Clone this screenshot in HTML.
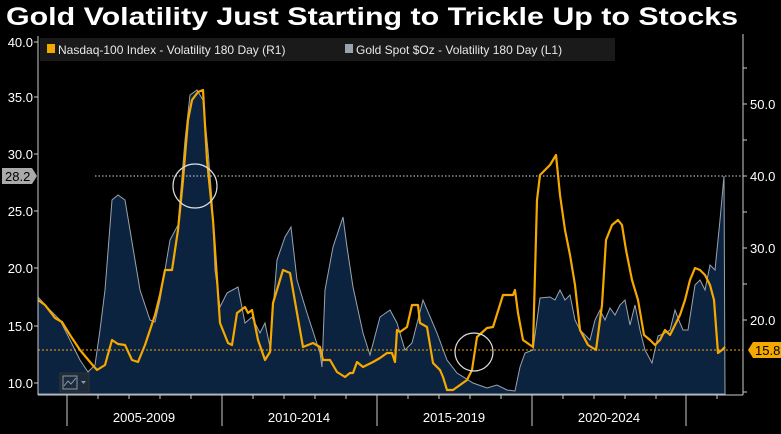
<!DOCTYPE html>
<html><head><meta charset="utf-8"><style>
body{margin:0;background:#000;width:781px;height:429px;overflow:hidden;font-family:"Liberation Sans",sans-serif}
</style></head><body>
<svg width="781" height="429" xmlns="http://www.w3.org/2000/svg" font-family="Liberation Sans, sans-serif">
<text x="6" y="25" fill="#fff" font-size="25" font-weight="bold" textLength="732" lengthAdjust="spacingAndGlyphs">Gold Volatility Just Starting to Trickle Up to Stocks</text>
<!-- gold area -->
<path fill="#0c2340" stroke="#9aa3ad" stroke-width="1" d="M38,394 L38,297 L50,310 L60,320 L70,340 L80,360 L88,372 L95,365 L100,330 L105,290 L112,200 L118,195 L125,200 L130,230 L140,290 L150,320 L155,322 L160,300 L165,270 L170,240 L178,225 L185,140 L190,95 L197,90 L203,100 L208,150 L212,200 L215,270 L220,307 L227,293 L238,287 L245,323 L252,317 L260,333 L265,323 L270,347 L277,260 L285,237 L291,227 L297,280 L307,313 L320,353 L322,367 L325,290 L333,247 L343,217 L347,247 L353,287 L363,333 L370,355 L380,317 L390,310 L397,323 L405,350 L412,343 L423,300 L437,333 L447,360 L457,373 L473,383 L487,388 L497,385 L507,390 L515,391 L520,367 L525,353 L533,350 L540,298 L550,297 L555,300 L560,290 L565,300 L570,295 L575,320 L580,330 L590,340 L595,320 L600,310 L605,320 L610,308 L615,315 L620,305 L625,300 L630,325 L635,305 L640,330 L645,350 L652,363 L658,336 L665,333 L670,330 L675,310 L680,323 L683,330 L688,330 L695,285 L700,280 L705,290 L710,265 L715,270 L720,220 L724,176 L725,394 Z"/>
<!-- legend -->
<rect x="40" y="38" width="575" height="23" fill="#1a1a1a"/>
<rect x="47" y="44" width="8" height="9" fill="#f5a800"/>
<text x="58" y="54" fill="#e8e8e8" font-size="12">Nasdaq-100 Index - Volatility 180 Day (R1)</text>
<rect x="345" y="44" width="8" height="9" fill="#9aa3ad"/>
<text x="356" y="54" fill="#e8e8e8" font-size="12">Gold Spot $Oz - Volatility 180 Day (L1)</text>
<!-- ref lines -->
<line x1="95" y1="176" x2="743" y2="176" stroke="#ddd" stroke-dasharray="1.5,2"/>
<line x1="38" y1="350" x2="743" y2="350" stroke="#f5a800" stroke-dasharray="2,2"/>
<!-- nasdaq -->
<polyline fill="none" stroke="#f5a800" stroke-width="2.2" stroke-linejoin="round" points="38,300 45,305 55,318 62,322 70,335 80,350 90,362 97,370 105,365 112,340 118,344 125,345 132,360 138,362 145,345 150,330 155,315 160,295 165,270 172,270 178,230 183,180 188,120 192,100 198,92 203,90 207,160 213,220 220,323 228,343 232,345 237,313 245,307 248,313 252,310 258,340 265,360 270,352 273,303 283,270 290,273 297,313 303,347 313,343 320,347 323,360 330,360 337,372 345,377 350,373 353,373 357,362 363,367 373,362 380,358 387,353 392,353 395,362 397,330 400,332 407,327 412,305 418,305 420,323 427,327 433,363 440,370 443,377 447,390 453,390 467,380 472,370 477,337 487,328 493,327 503,295 513,295 515,290 518,313 523,340 533,347 537,200 540,175 545,170 550,165 556,155 560,195 565,230 570,255 575,285 580,330 588,345 596,350 602,305 606,240 612,225 618,220 622,225 626,250 632,280 638,300 644,335 650,340 655,345 660,340 665,330 670,335 675,325 680,315 685,300 690,280 695,268 700,270 705,275 710,285 714,300 718,353 722,350 725,347"/>
<circle cx="195" cy="186" r="22" fill="none" stroke="#ddd" stroke-width="1.2"/>
<circle cx="474" cy="352" r="19" fill="none" stroke="#ddd" stroke-width="1.2"/>
<!-- axes -->
<g stroke="#ccc" stroke-width="1">
<line x1="38" y1="36" x2="38" y2="395"/>
<line x1="743" y1="34" x2="743" y2="395"/>
<line x1="38" y1="395" x2="743" y2="395"/>
<line x1="67" y1="395" x2="67" y2="426"/><line x1="222" y1="395" x2="222" y2="426"/><line x1="377" y1="395" x2="377" y2="426"/><line x1="532" y1="395" x2="532" y2="426"/><line x1="686" y1="395" x2="686" y2="426"/>
<line x1="98" y1="395" x2="98" y2="399"/><line x1="129" y1="395" x2="129" y2="399"/><line x1="160" y1="395" x2="160" y2="399"/><line x1="191" y1="395" x2="191" y2="399"/><line x1="253" y1="395" x2="253" y2="399"/><line x1="284" y1="395" x2="284" y2="399"/><line x1="315" y1="395" x2="315" y2="399"/><line x1="346" y1="395" x2="346" y2="399"/><line x1="408" y1="395" x2="408" y2="399"/><line x1="439" y1="395" x2="439" y2="399"/><line x1="470" y1="395" x2="470" y2="399"/><line x1="501" y1="395" x2="501" y2="399"/><line x1="563" y1="395" x2="563" y2="399"/><line x1="594" y1="395" x2="594" y2="399"/><line x1="625" y1="395" x2="625" y2="399"/><line x1="656" y1="395" x2="656" y2="399"/><line x1="717" y1="395" x2="717" y2="399"/>
<line x1="34" y1="42" x2="38" y2="42"/><line x1="34" y1="97" x2="38" y2="97"/><line x1="34" y1="154" x2="38" y2="154"/><line x1="34" y1="211" x2="38" y2="211"/><line x1="34" y1="268" x2="38" y2="268"/><line x1="34" y1="326" x2="38" y2="326"/><line x1="34" y1="383" x2="38" y2="383"/>
<line x1="743" y1="68" x2="747" y2="68"/><line x1="743" y1="104" x2="747" y2="104"/><line x1="743" y1="140" x2="747" y2="140"/><line x1="743" y1="176" x2="747" y2="176"/><line x1="743" y1="212" x2="747" y2="212"/><line x1="743" y1="248" x2="747" y2="248"/><line x1="743" y1="284" x2="747" y2="284"/><line x1="743" y1="320" x2="747" y2="320"/><line x1="743" y1="392" x2="747" y2="392"/>
</g>
<g fill="#fff" font-size="13" text-anchor="end">
<text x="33" y="47">40.0</text><text x="33" y="102">35.0</text><text x="33" y="159">30.0</text><text x="33" y="216">25.0</text><text x="33" y="273">20.0</text><text x="33" y="331">15.0</text><text x="33" y="388">10.0</text>
</g>
<g fill="#fff" font-size="13">
<text x="750" y="109">50.0</text><text x="750" y="181">40.0</text><text x="750" y="253">30.0</text><text x="750" y="325">20.0</text>
</g>
<path d="M2,168 H32 L37,176 L32,184 H2 Z" fill="#aaa"/>
<text x="5" y="181" fill="#000" font-size="13">28.2</text>
<path d="M748,350 L753,342 H781 V358 H753 Z" fill="#f5a800"/>
<text x="755" y="355" fill="#000" font-size="13">15.8</text>
<g fill="#fff" font-size="13" text-anchor="middle">
<text x="144" y="422">2005-2009</text><text x="299" y="422">2010-2014</text><text x="454" y="422">2015-2019</text><text x="609" y="422">2020-2024</text>
</g>
<rect x="60" y="373" width="29" height="19" fill="#1c2a3a" stroke="#333"/>
<rect x="63" y="376" width="14" height="13" fill="none" stroke="#8899aa"/>
<polyline points="64,386 68,381 71,384 76,378" fill="none" stroke="#8899aa"/>
<path d="M81,381 h5 l-2.5,3 z" fill="#8899aa"/>
</svg>
</body></html>
